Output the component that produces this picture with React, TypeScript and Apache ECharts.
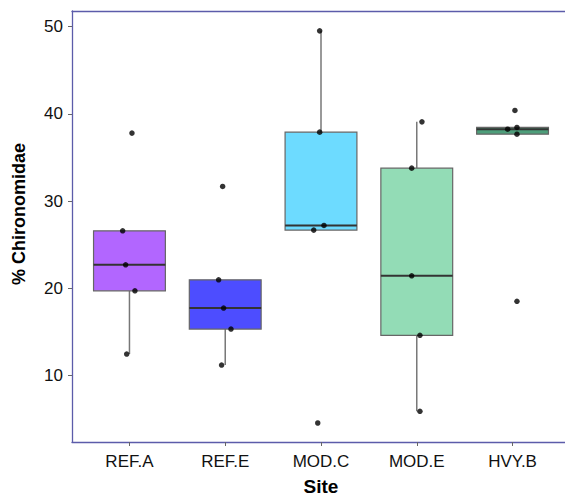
import React, { useEffect, useRef } from "react";
import * as echarts from "echarts";

const categories = ["REF.A", "REF.E", "MOD.C", "MOD.E", "HVY.B"];
// [lower whisker, Q1, median, Q3, upper whisker]
const boxStats = [
  [12.44, 19.7, 22.68, 26.58, 26.58],
  [11.18, 15.31, 17.72, 20.96, 20.96],
  [26.66, 26.66, 27.2, 37.9, 49.52],
  [5.87, 14.59, 21.42, 33.77, 39.08],
  [37.67, 37.67, 38.24, 38.44, 38.44],
];
// observed values per site
const refA = [37.79, 26.58, 22.68, 19.7, 12.44];
const refE = [31.67, 20.96, 17.72, 15.31, 11.18];
const modC = [49.52, 37.9, 27.2, 26.66, 4.53];
const modE = [39.08, 33.77, 21.42, 14.59, 5.87];
const hvyB = [40.39, 38.44, 38.24, 37.67, 18.49];
// horizontal jitter (in category units)
const jitterA = [0.026, -0.071, -0.04, 0.057, -0.029];
const jitterE = [-0.027, -0.069, -0.017, 0.06, -0.038];
const jitterC = [-0.014, -0.014, 0.031, -0.076, -0.034];
const jitterME = [0.054, -0.053, -0.053, 0.033, 0.033];
const jitterH = [0.025, 0.046, -0.051, 0.046, 0.046];
const yTicks = [10, 20, 30, 40, 50];

const fillColors = ["#b266ff", "#4d4dff", "#6ddbff", "#93dcb6", "#4d9e7a"];
const FONT = "'Liberation Sans', Arial, sans-serif";
const FRAME = "#5c5caa";

export default function App() {
  const ref = useRef<HTMLDivElement>(null);
  useEffect(() => {
    if (!ref.current) return;
    const chart = echarts.init(ref.current, undefined, { renderer: "svg" });
    const values = [refA, refE, modC, modE, hvyB];
    const jitters = [jitterA, jitterE, jitterC, jitterME, jitterH];
    const points: number[][] = [];
    values.forEach((arr, i) => {
      arr.forEach((v, j) => points.push([i + jitters[i][j], v]));
    });
    const boxData = boxStats.map((s, i) => [i, ...s]);

    const gridLeft = 72;
    const gridWidth = 498;
    const unit = gridWidth / 5.2;
    const frameLine = { show: true, onZero: false, lineStyle: { color: FRAME, width: 1.3 } };

    chart.setOption({
      animation: false,
      backgroundColor: "#fff",
      textStyle: { fontFamily: FONT },
      graphic: [
        {
          type: "text",
          x: 19,
          y: 214,
          rotation: Math.PI / 2,
          style: {
            text: "% Chironomidae",
            font: `bold 18px ${FONT}`,
            fill: "#000",
            align: "center",
            verticalAlign: "middle",
          },
        },
        {
          type: "rect",
          z: 100,
          shape: { x: 558, y: 14, width: 10, height: 425 },
          style: { fill: "#fff" },
        },
      ],
      grid: [
        {
          left: gridLeft,
          top: 11,
          width: gridWidth,
          height: 431,
          show: false,
          outerBoundsMode: "none",
          containLabel: false,
        },
        {
          left: gridLeft + 0.1 * unit,
          top: 11,
          width: gridWidth - 0.2 * unit,
          height: 431,
          show: false,
          outerBoundsMode: "none",
          containLabel: false,
        },
      ],
      xAxis: [
        {
          type: "value",
          gridIndex: 0,
          min: -0.6,
          max: 4.6,
          position: "bottom",
          axisLine: frameLine,
          axisTick: { show: false },
          axisLabel: { show: false },
          splitLine: { show: false },
        },
        {
          type: "category",
          gridIndex: 1,
          data: categories,
          boundaryGap: true,
          axisLine: { show: false },
          axisTick: {
            show: true,
            alignWithLabel: true,
            length: 4,
            lineStyle: { color: "#666", width: 1 },
          },
          axisLabel: {
            color: "#111",
            fontSize: 17,
            margin: 11,
            fontFamily: FONT,
          },
          name: "Site",
          nameLocation: "middle",
          nameGap: 35,
          nameTextStyle: {
            fontSize: 19,
            fontWeight: "bold",
            color: "#000",
            fontFamily: FONT,
          },
        },
        {
          type: "value",
          gridIndex: 0,
          min: -0.6,
          max: 4.6,
          position: "top",
          axisLine: frameLine,
          axisTick: { show: false },
          axisLabel: { show: false },
          splitLine: { show: false },
        },
      ],
      yAxis: [
        {
          type: "value",
          gridIndex: 0,
          min: 2.35,
          max: 51.8,
          position: "left",
          axisLine: frameLine,
          splitLine: { show: false },
          axisTick: {
            show: true,
            length: 4,
            customValues: yTicks,
            lineStyle: { color: "#666", width: 1 },
          },
          axisLabel: {
            customValues: yTicks,
            color: "#111",
            fontSize: 17,
            margin: 9,
            fontFamily: FONT,
          },
        },
        { type: "value", gridIndex: 1, show: false, min: 2.35, max: 51.8 },
      ],
      series: [
        {
          type: "custom",
          xAxisIndex: 0,
          yAxisIndex: 0,
          data: boxData,
          encode: { x: 0, y: [1, 2, 3, 4, 5] },
          z: 2,
          renderItem: (params: any, api: any) => {
            const x = api.value(0);
            const lo = api.coord([x, api.value(1)]);
            const q1 = api.coord([x, api.value(2)]);
            const med = api.coord([x, api.value(3)]);
            const q3 = api.coord([x, api.value(4)]);
            const hi = api.coord([x, api.value(5)]);
            const half = api.size([0.75, 0])[0] / 2;
            const whisk = { stroke: "#777", lineWidth: 1.5 };
            return {
              type: "group",
              children: [
                {
                  type: "line",
                  shape: { x1: hi[0], y1: hi[1], x2: q3[0], y2: q3[1] },
                  style: whisk,
                },
                {
                  type: "line",
                  shape: { x1: q1[0], y1: q1[1], x2: lo[0], y2: lo[1] },
                  style: whisk,
                },
                {
                  type: "rect",
                  shape: {
                    x: q3[0] - half,
                    y: q3[1],
                    width: half * 2,
                    height: q1[1] - q3[1],
                  },
                  style: {
                    fill: fillColors[params.dataIndex],
                    stroke: "#666",
                    lineWidth: 1.2,
                  },
                },
                {
                  type: "line",
                  shape: {
                    x1: med[0] - half,
                    y1: med[1],
                    x2: med[0] + half,
                    y2: med[1],
                  },
                  style: { stroke: "#333", lineWidth: 2 },
                },
              ],
            };
          },
        },
        {
          type: "scatter",
          xAxisIndex: 0,
          yAxisIndex: 0,
          data: points,
          symbolSize: 5.5,
          itemStyle: { color: "#000" },
          z: 10,
        },
      ],
    });
    return () => chart.dispose();
  }, []);
  return (
    <div
      ref={ref}
      style={{ position: "fixed", left: 0, top: 0, width: 565, height: 496, background: "#fff" }}
    />
  );
}
